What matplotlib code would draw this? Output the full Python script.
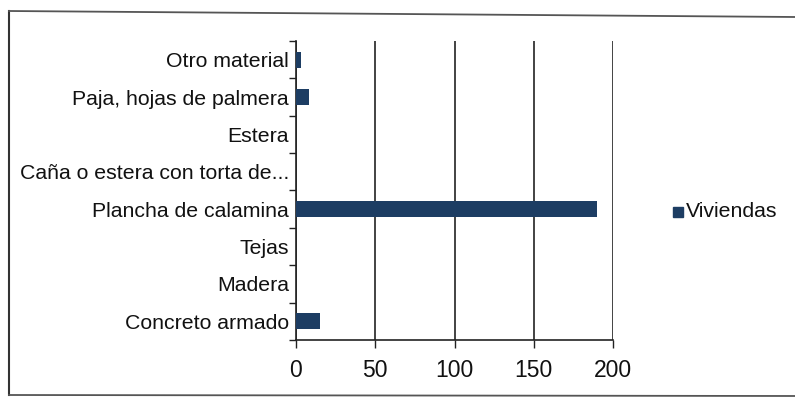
import matplotlib
matplotlib.use("Agg")
import matplotlib.pyplot as plt
from matplotlib.patches import Rectangle
from matplotlib import font_manager

names = {f.name for f in font_manager.fontManager.ttflist}
narrow = "Liberation Sans Narrow" if "Liberation Sans Narrow" in names else "Liberation Sans"
plt.rcParams["font.family"] = [narrow, "DejaVu Sans"]

categories = [
    "Concreto armado",
    "Madera",
    "Tejas",
    "Plancha de calamina",
    "Caña o estera con torta de...",
    "Estera",
    "Paja, hojas de palmera",
    "Otro material",
]
viviendas = [15, 0, 0, 190, 0, 0, 8, 3]
xticks = [0, 50, 100, 150, 200]

W, H = 795, 397
fig = plt.figure(figsize=(W / 100, H / 100), dpi=100)
ax = fig.add_axes([296 / W, 1 - 340 / H, (613 - 296) / W, (340 - 41) / H])

bar_color = "#1d3d63"
label_size = 15.3
ypos = list(range(len(categories)))
ax.barh(ypos, viviendas, height=0.42, color=bar_color, label="Viviendas", zorder=3)

ax.set_xlim(0, 200)
ax.set_ylim(-0.5, len(categories) - 0.5)
ax.set_xticks(xticks)
ax.set_xticklabels([str(t) for t in xticks])
ax.set_yticks([i - 0.5 for i in range(len(categories) + 1)], minor=False)
ax.set_yticklabels([])
ax.set_yticks(ypos, minor=True)
ax.set_yticklabels(categories, minor=True)
ax.tick_params(axis="y", which="major", length=5, width=1, color="#222222", direction="out")
ax.tick_params(axis="y", which="minor", length=0, pad=5, labelsize=label_size, labelcolor="#111111")
ax.tick_params(axis="x", length=6, width=1, color="#222222", direction="out", pad=8,
               labelsize=16.5, labelcolor="#111111")

ax.grid(axis="x", color="#222222", linewidth=1.2, zorder=1)
for side in ("top", "right"):
    ax.spines[side].set_visible(False)
for side in ("left", "bottom"):
    ax.spines[side].set_color("#222222")
    ax.spines[side].set_linewidth(1.2)

# legend
fig.patches.append(Rectangle((673 / W, 1 - 217 / H), 10 / W, 10 / H,
                             transform=fig.transFigure, color=bar_color))
fig.text(686 / W, 1 - 212 / H, "Viviendas", fontsize=label_size, color="#111111",
         va="center", ha="left")

# outer frame
fig.lines.append(plt.Line2D([9 / W, 9 / W], [1 - 395 / H, 1 - 11 / H],
                            transform=fig.transFigure, color="#333333", lw=1.5))
fig.lines.append(plt.Line2D([9 / W, 1.0], [1 - 11 / H, 1 - 17 / H],
                            transform=fig.transFigure, color="#555555", lw=1.3))
fig.lines.append(plt.Line2D([9 / W, 1.0], [1 - 395 / H, 1 - 396 / H],
                            transform=fig.transFigure, color="#555555", lw=1.3))

fig.savefig("out.png", dpi=100, facecolor="white")
